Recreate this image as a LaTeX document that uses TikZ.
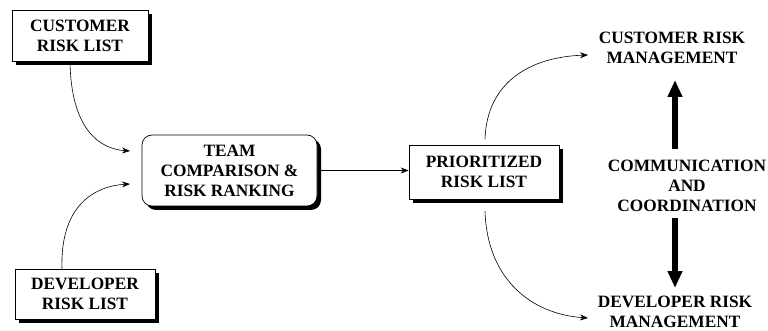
\documentclass[tikz,border=0pt]{standalone}
\usepackage{fontspec}
\setmainfont{Liberation Serif}
\usetikzlibrary{arrows.meta,shadows}
\begin{document}
\begin{tikzpicture}[x=1pt,y=-1pt,
  lbl/.style={font=\fontsize{17.3}{20}\selectfont\bfseries,align=center,inner sep=0pt},
  listbox/.style={lbl,draw=black,line width=0.7pt,fill=white,
    drop shadow={shadow xshift=4pt,shadow yshift=-4pt,fill=black,opacity=1}},
  flow/.style={line width=0.6pt,-{Stealth[length=8pt,width=6pt]}},
  bigarrow/.style={line width=6.5pt,-{Triangle[length=17pt,width=14pt]}}]
\useasboundingbox (0,0) rectangle (768,331);

% input lists
\node[listbox,minimum width=136pt,minimum height=51pt] (cust) at (80,35.5) {CUSTOMER\\RISK LIST};
\node[listbox,minimum width=140pt,minimum height=50pt] (dev) at (85,294) {DEVELOPER\\RISK LIST};

% ranking step
\node[listbox,rounded corners=10pt,minimum width=175pt,minimum height=71pt] (team) at (229.5,170.5)
  {TEAM\\COMPARISON \&\\RISK RANKING};

% result
\node[listbox,minimum width=150pt,minimum height=54pt] (prio) at (484,172) {PRIORITIZED\\RISK LIST};

% management side
\node[lbl] (cmgmt) at (672,48) {CUSTOMER RISK\\MANAGEMENT};
\node[lbl] (comm) at (687,186) {COMMUNICATION\\AND\\COORDINATION};
\node[lbl] (dmgmt) at (675,312) {DEVELOPER RISK\\MANAGEMENT};

% arrow ends
\coordinate (tin1) at (130,151);
\coordinate (tin2) at (130,184);
\coordinate (pout1) at (485,139);
\coordinate (pout2) at (485,211);
\coordinate (cin) at (588,55);
\coordinate (din) at (588,318);
\coordinate (up0) at (675,149);
\coordinate (up1) at (675,80);
\coordinate (dn0) at (675,218);
\coordinate (dn1) at (675,288);

\draw[flow] (cust.south -| 70,0) .. controls (71,130) and (100,149) .. (tin1);
\draw[flow] (dev.north -| 62,0) .. controls (60,205) and (95,186) .. (tin2);
\draw[flow] (team.east) -- (team.east -| prio.west);
\draw[flow] (pout1) .. controls (487,82) and (530,57) .. (cin);
\draw[flow] (pout2) .. controls (487,278) and (530,314) .. (din);

\draw[bigarrow] (up0) -- (up1);
\draw[bigarrow] (dn0) -- (dn1);
\end{tikzpicture}
\end{document}
